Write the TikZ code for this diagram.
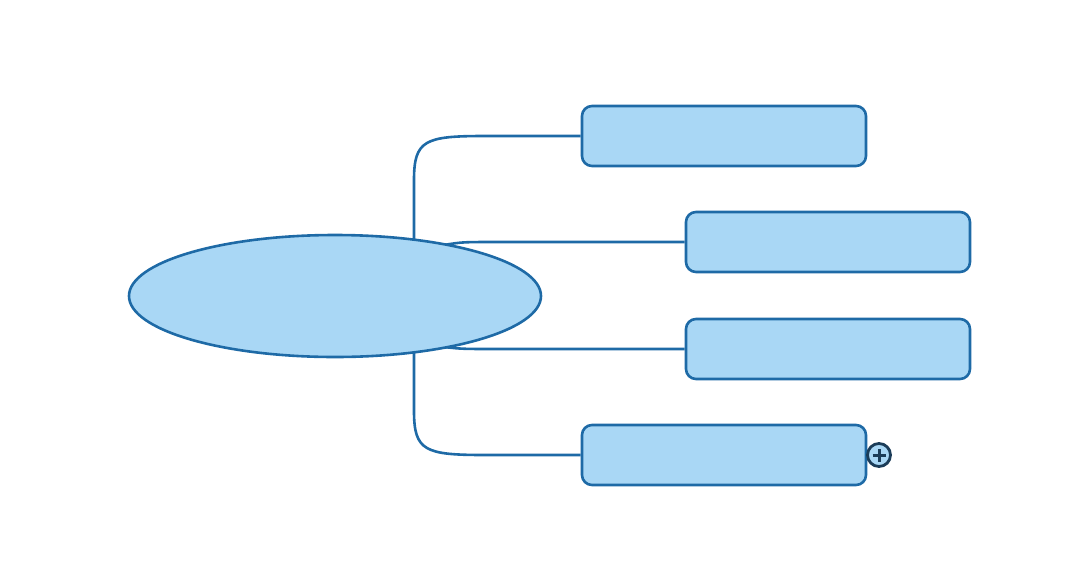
\documentclass[tikz,border=0pt]{standalone}
\usetikzlibrary{shapes.geometric}
\definecolor{nodefill}{HTML}{A9D7F5}
\definecolor{nodeline}{HTML}{1E6AA6}
\definecolor{plusline}{HTML}{1B3C58}
\begin{document}
\begin{tikzpicture}[x=1pt,y=-1pt,
  topicbox/.style={draw=nodeline,fill=nodefill,line width=2.6pt,rounded corners=10pt,minimum width=284pt,minimum height=60pt,inner sep=0pt},
  rootshape/.style={ellipse,draw=nodeline,fill=nodefill,line width=2.6pt,minimum width=412pt,minimum height=122pt,inner sep=0pt},
  link/.style={draw=nodeline,line width=2.6pt},
  expander/.style={circle,draw=plusline,fill=nodefill,line width=2.8pt,minimum size=23pt,inner sep=0pt}]
\useasboundingbox (0,0) rectangle (1076,571);
\node[topicbox] (b1) at (724,136) {};
\node[topicbox] (b2) at (828,242) {};
\node[topicbox] (b3) at (828,349) {};
\node[topicbox] (b4) at (724,455) {};
\coordinate (s1) at (414,242);
\coordinate (s2) at (444,245);
\coordinate (s3) at (444,347);
\coordinate (s4) at (414,350);
\draw[link] (s1) -- (414,180) .. controls (414,140) and (425,136) .. (485,136) -- (b1.west);
\draw[link] (s2) .. controls (462,242) .. (500,242) -- (b2.west);
\draw[link] (s3) .. controls (462,349) .. (500,349) -- (b3.west);
\draw[link] (s4) -- (414,411) .. controls (414,451) and (425,455) .. (485,455) -- (b4.west);
\node[rootshape] (root) at (335,296) {};
\node[expander] (plus) at (879,455) {};
\draw[plusline,line width=3pt] ([xshift=-6.5pt]plus.center) -- ([xshift=6.5pt]plus.center);
\draw[plusline,line width=3pt] ([yshift=-6.5pt]plus.center) -- ([yshift=6.5pt]plus.center);
\end{tikzpicture}
\end{document}
